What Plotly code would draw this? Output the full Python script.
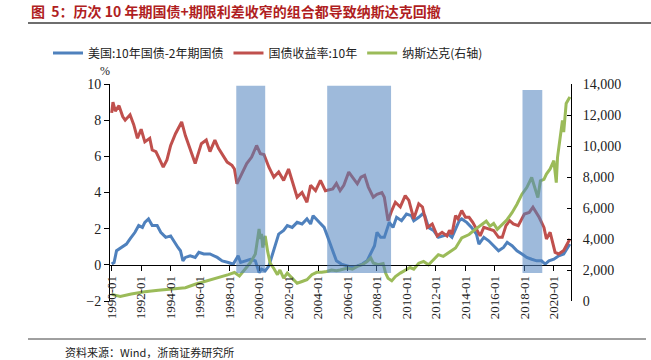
import plotly.graph_objects as go

# ---------------- data ----------------
spread_dates = ["1990-01","1990-03","1990-05","1990-09","1991-01","1991-04","1991-08","1991-11",
 "1992-02","1992-04","1992-07","1992-10","1993-02","1993-05","1993-09","1994-01","1994-04","1994-07",
 "1994-09","1994-11","1995-01","1995-05","1995-09","1995-12","1996-04","1996-09","1997-03","1997-07",
 "1997-12","1998-04","1998-08","1998-10","1999-02","1999-06","1999-10","2000-01","2000-03","2000-06",
 "2000-09","2000-12","2001-03","2001-05","2001-09","2001-12","2002-04","2002-08","2002-12","2003-04",
 "2003-07","2003-09","2004-02","2004-06","2004-10","2005-02","2005-04","2005-08","2006-01","2006-05",
 "2006-09","2007-01","2007-05","2007-08","2007-11","2008-01","2008-04","2008-07","2008-09","2008-11",
 "2009-02","2009-05","2009-09","2010-01","2010-05","2010-07","2010-11","2011-02","2011-04","2011-07",
 "2011-11","2012-03","2012-07","2012-11","2013-02","2013-05","2013-08","2013-10","2014-02","2014-06",
 "2014-10","2014-12","2015-04","2015-08","2015-12","2016-04","2016-08","2016-11","2017-03","2017-07",
 "2017-11","2018-03","2018-07","2018-11","2019-03","2019-06","2019-09","2020-01","2020-05","2020-09",
 "2021-02"]
spread_values = [0.04,0.13,0.78,0.96,1.15,1.43,1.8,2.17,
 2.07,2.35,2.54,2.17,2.17,1.8,1.52,1.6,1.24,0.96,
 0.78,0.22,0.41,0.5,0.41,0.69,0.6,0.6,0.41,0.22,
 0.13,0.04,0.5,0.13,0.22,0.31,0.22,-0.43,-0.24,-0.33,
 -0.06,0.6,1.15,1.7,1.9,2.17,2.07,2.35,2.26,2.54,
 2.26,2.72,2.35,2.07,1.33,0.6,0.22,0.04,-0.06,-0.15,
 -0.06,0.04,0.22,0.6,1.06,1.8,1.52,1.52,1.98,2.35,
 2.07,2.63,2.44,2.81,2.72,2.44,2.63,2.81,2.72,2.07,
 1.9,1.52,1.6,1.7,1.52,1.98,2.44,2.54,2.35,2.07,
 1.7,1.15,1.52,1.33,1.06,0.78,0.96,1.24,1.06,0.78,
 0.6,0.41,0.31,0.22,0.22,0.04,0.22,0.31,0.5,0.6,
 1.15]

yield_dates = ["1990-01","1990-02","1990-04","1990-07","1990-10","1990-12","1991-04","1991-07",
 "1991-10","1992-01","1992-04","1992-08","1992-10","1993-01","1993-03","1993-07","1993-10","1994-01",
 "1994-05","1994-10","1995-01","1995-05","1995-09","1996-02","1996-06","1996-09","1997-01","1997-04",
 "1997-07","1997-11","1998-03","1998-05","1998-07","1998-11","1999-03","1999-07","1999-11","2000-02",
 "2000-05","2000-09","2001-01","2001-05","2001-09","2002-01","2002-05","2002-08","2002-12","2003-04",
 "2003-07","2003-11","2004-03","2004-07","2005-01","2005-04","2005-07","2005-10","2006-02","2006-05",
 "2006-09","2006-12","2007-03","2007-06","2007-10","2008-01","2008-05","2008-07","2008-10","2009-01",
 "2009-04","2009-08","2009-12","2010-03","2010-07","2010-11","2011-02","2011-06","2011-10","2012-02",
 "2012-06","2012-10","2012-12","2013-02","2013-05","2013-07","2013-10","2014-01","2014-04","2014-07",
 "2015-01","2015-04","2015-08","2015-12","2016-04","2016-07","2016-10","2017-01","2017-04","2017-08",
 "2018-01","2018-05","2018-08","2019-01","2019-05","2019-07","2019-10","2020-02","2020-05","2020-09",
 "2021-02"]
yield_values = [8.4,9.0,8.5,8.8,8.2,8.0,8.3,7.75,
 7.0,7.5,6.8,7.0,6.35,6.26,5.98,5.4,5.8,6.6,
 7.25,7.9,7.15,6.35,5.6,6.7,6.9,6.26,6.9,6.44,
 6.1,5.68,5.5,5.3,4.48,5.04,5.6,5.96,6.6,6.15,
 6.1,5.4,4.85,5.13,4.67,5.3,4.48,3.74,4.0,3.46,
 4.4,4.1,4.67,4.1,4.2,4.5,4.1,4.4,5.13,4.85,
 4.48,4.85,4.95,4.3,3.74,3.9,4.0,3.74,2.44,3.0,
 3.46,3.2,3.83,3.56,2.54,3.37,3.2,2.07,2.26,1.6,
 1.8,1.6,1.9,1.7,2.72,2.54,3.0,2.63,2.63,2.35,
 1.6,2.07,2.0,1.9,1.52,1.52,2.17,2.44,2.26,2.17,
 2.81,2.9,3.19,2.63,2.07,1.43,1.8,0.69,0.6,0.8,
 1.43]

nasdaq_dates = ["1990-01","1990-08","1991-05","1992-04","1993-03","1994-02","1995-01","1995-09",
 "1996-07","1997-06","1997-12","1998-05","1998-09","1999-02","1999-06","1999-10","2000-01","2000-02",
 "2000-03","2000-04","2000-06","2000-08","2000-10","2001-01","2001-04","2001-06","2001-09","2001-12",
 "2002-04","2002-08","2002-12","2003-04","2003-08","2003-12","2004-04","2004-08","2004-12","2005-04",
 "2005-07","2006-01","2006-05","2006-09","2007-01","2007-05","2007-08","2007-10","2008-02","2008-06",
 "2008-08","2008-10","2009-01","2009-04","2009-08","2009-12","2010-04","2010-07","2010-11","2011-03",
 "2011-07","2011-11","2012-03","2012-07","2012-11","2013-05","2013-10","2014-04","2014-09","2015-02",
 "2015-06","2015-09","2015-12","2016-03","2016-07","2016-11","2017-03","2017-07","2017-11","2018-03",
 "2018-07","2018-10","2018-12","2019-02","2019-05","2019-07","2019-10","2020-01","2020-03","2020-04",
 "2020-07","2020-08","2020-09","2020-11","2021-02"]
nasdaq_values = [430,300,450,600,690,760,860,1080,
 1300,1550,1700,1840,1620,2100,2480,3030,4650,4000,
 4330,3450,4200,3200,2440,2100,1700,2000,1470,1800,
 1470,1150,1260,1370,1700,1850,1850,1900,2000,1950,
 2000,2120,2050,2230,2340,2550,2770,2450,2340,2420,
 1800,1470,1300,1580,1800,2010,2160,2050,2440,2550,
 2340,2660,2990,2880,3090,3420,4070,4290,4620,4940,
 5150,4830,5000,4620,4940,5260,5700,6240,6890,7320,
 7970,7100,6670,7750,7850,8190,8520,9050,7640,9270,
 11000,11650,10900,12740,13170]

# shaded periods (start, end, top value on left axis)
shade_start = ["1998-06-15", "2004-08-15", "2017-11-15"]
shade_end = ["2000-06-01", "2008-12-15", "2019-03-20"]
shade_top = [9.9, 9.9, 9.67]
shade_bottom = -0.45

series_names = ["美国:10年国债-2年期国债", "国债收益率:10年", "纳斯达克(右轴)"]
title_text = "图  5：历次 10 年期国债+期限利差收窄的组合都导致纳斯达克回撤"
source_text = "资料来源：Wind，浙商证券研究所"

BLUE = "#4F81BD"
RED = "#C0504D"
GREEN = "#9BBB59"
SERIF = "Liberation Serif, Noto Sans CJK SC, serif"

fig = go.Figure()
fig.add_trace(go.Scatter(x=spread_dates, y=spread_values, name=series_names[0],
                         mode="lines", line=dict(color=BLUE, width=3)))
fig.add_trace(go.Scatter(x=yield_dates, y=yield_values, name=series_names[1],
                         mode="lines", line=dict(color=RED, width=3)))
fig.add_trace(go.Scatter(x=nasdaq_dates, y=nasdaq_values, name=series_names[2],
                         mode="lines", line=dict(color=GREEN, width=3), yaxis="y2"))

shapes = []
for s, e, t in zip(shade_start, shade_end, shade_top):
    shapes.append(dict(type="rect", xref="x", yref="y", x0=s, x1=e, y0=shade_bottom, y1=t,
                       fillcolor="rgba(79,129,189,0.55)", line=dict(width=0), layer="above"))

L, R, T, B = 110, 80, 84, 59
W, H = 651, 360
pw, ph = W - L - R, H - T - B
def px(xp): return (xp - L) / pw
def py(yp): return (H - B - yp) / ph

# title underline and footer line
shapes.append(dict(type="line", xref="paper", yref="paper", x0=px(28), x1=px(651), y0=py(23), y1=py(23),
                   line=dict(color="#6e6e6e", width=2)))
shapes.append(dict(type="line", xref="paper", yref="paper", x0=px(28), x1=px(646), y0=py(339), y1=py(339),
                   line=dict(color="#404040", width=1)))

annotations = [
    dict(text=title_text, x=px(29), y=py(11), xref="paper", yref="paper", xanchor="left", yanchor="middle",
         showarrow=False, font=dict(family="Noto Sans CJK SC", size=14, color="#B01E22", weight="bold")),
    dict(text=source_text, x=px(63), y=py(352), xref="paper", yref="paper", xanchor="left", yanchor="middle",
         showarrow=False, font=dict(family="Noto Sans CJK SC", size=11, color="#222")),
    dict(text="%", x=px(105), y=py(71), xref="paper", yref="paper", xanchor="center", yanchor="middle",
         showarrow=False, font=dict(family=SERIF, size=12, color="#222")),
]

fig.update_layout(
    width=W, height=H, margin=dict(l=L, r=R, t=T, b=B, autoexpand=False),
    paper_bgcolor="white", plot_bgcolor="white",
    font=dict(family=SERIF, size=13, color="#222"),
    showlegend=True,
    legend=dict(orientation="h", x=px(268), y=py(53), xanchor="center", yanchor="middle",
                font=dict(family="Noto Sans CJK SC", size=12, color="#222"),
                bgcolor="rgba(0,0,0,0)", itemwidth=30, tracegroupgap=0),
    xaxis=dict(type="date", range=["1989-11-20", "2021-03-01"], tickvals=[f"{y}-01-01" for y in range(1990, 2021, 2)],
               ticktext=[f"{y}-01" for y in range(1990, 2021, 2)], tickangle=-90,
               anchor="free", position=2/12, showline=True, linecolor="black", linewidth=1,
               ticks="outside", ticklen=5, tickcolor="black", showgrid=False, zeroline=False,
               tickfont=dict(family=SERIF, size=13)),
    yaxis=dict(range=[-2, 10], dtick=2, showline=True, linecolor="black", linewidth=1,
               ticks="outside", ticklen=5, tickcolor="black", showgrid=False, zeroline=False,
               tickfont=dict(family=SERIF, size=14)),
    yaxis2=dict(range=[0, 14000], dtick=2000, overlaying="y", side="right", tickformat=",",
                showline=True, linecolor="black", linewidth=1, ticks="inside", ticklen=4,
                tickcolor="black", showgrid=False, zeroline=False, ticklabelstandoff=8,
                tickfont=dict(family=SERIF, size=14)),
    shapes=shapes, annotations=annotations,
)

fig.write_html("out.html", config={"displayModeBar": False},
               post_script="document.body.style.margin='0';document.body.style.overflow='hidden';")
